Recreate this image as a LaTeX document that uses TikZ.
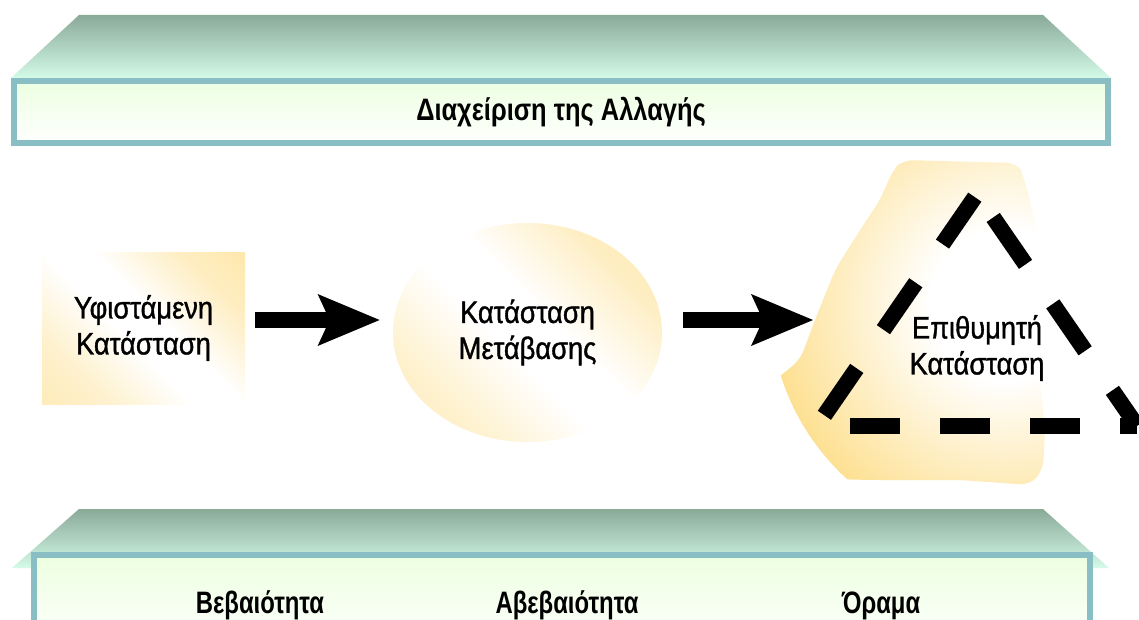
\documentclass[tikz,border=0pt]{standalone}
\usepackage{fontspec}
\setmainfont[FakeStretch=0.88, FakeBold=1.1]{Liberation Sans}
\newfontfamily\topfont[FakeStretch=0.82]{Liberation Sans}
\newfontfamily\lowfont[FakeStretch=0.77]{Liberation Sans}
\usetikzlibrary{arrows.meta, shapes.geometric}

\definecolor{faceTop}{RGB}{138,170,152}
\definecolor{faceBot}{RGB}{212,250,232}
\definecolor{frameLine}{RGB}{136,190,196}
\definecolor{frontTop}{RGB}{236,255,224}
\definecolor{warm}{RGB}{253,224,146}

% diagonal band: warm at both corners, white through the middle
\pgfdeclareverticalshading{warmband}{100bp}{color(0bp)=(warm!85!white);
  color(28bp)=(warm!45!white); color(45bp)=(white); color(55bp)=(white);
  color(72bp)=(warm!55!white); color(100bp)=(warm)}
% soft glow: white core fading to warm at the rim
\pgfdeclareradialshading{blobglow}{\pgfpoint{0bp}{0bp}}{color(0bp)=(white);
  color(8bp)=(white); color(25bp)=(warm); color(50bp)=(warm)}

\tikzset{
  topface/.style={top color=faceTop, bottom color=faceBot},
  frontbox/.style={rectangle, draw=frameLine, line width=3pt,
    top color=frontTop, bottom color=white, inner sep=0pt},
  warmfill/.style={shade, shading=warmband, shading angle=-45},
  txt/.style={font=\fontsize{15.5pt}{18pt}\selectfont, align=center, inner sep=0pt},
  bartext/.style={font=\lowfont\bfseries\fontsize{15.5pt}{18pt}\selectfont, inner sep=0pt},
  bigarrow/.style={line width=8pt,
    -{Stealth[length=31pt, width=26pt, inset=6pt, line width=0pt]}},
  dashside/.style={line width=8pt, black}
}

\begin{document}
\begin{tikzpicture}[x=0.5pt, y=-0.5pt]
  \clip (0,0) rectangle (1139,620);
  \fill[white] (0,0) rectangle (1139,620);

  % upper banner: slanted top face and framed front
  \shade[topface] (79,15) -- (1043,15) -- (1111,78) -- (11,78) -- cycle;
  \node[frontbox, minimum width=547pt, minimum height=31pt] (topbar) at (561,112)
    {\topfont\bfseries\fontsize{15.5pt}{18pt}\selectfont Διαχείριση της Αλλαγής};

  % lower banner
  \shade[topface] (79,509) -- (1043,509) -- (1109,568) -- (12,568) -- cycle;
  \node[frontbox, minimum width=528pt, minimum height=48pt] (lowbar) at (562,603) {};

  % current state
  \node[warmfill, rectangle, minimum width=101.5pt, minimum height=76pt, txt]
    (sq) at (143.5,328) {Υφιστάμενη\\Κατάσταση};

  % transition state
  \node[warmfill, ellipse, minimum width=134.5pt, minimum height=109.5pt, txt]
    (ell) at (527.5,332.5) {Κατάσταση\\Μετάβασης};

  % desired state: soft patch behind the triangle
  \begin{scope}
    \clip[rounded corners=5] (893,170) -- (903,160) -- (1017,163) -- (1022,172)
      -- (1030,200) -- (1037,235) -- (1038,300) -- (1040,380) -- (1045,430)
      -- (1043,470) -- (1030,485) -- (960,480) -- (870,480) -- (790,478)
      -- (778,465) -- (776,430) -- (756,410) -- (754,395) -- (775,380)
      -- (800,360) -- (815,320) -- (835,270) -- (860,230) -- (880,200) -- cycle;
    \shade[shading=blobglow] (1005,305) circle (235);
  \end{scope}

  \coordinate (apex) at (977,194);
  \coordinate (bl) at (817,426);
  \coordinate (br) at (1137,426);
  \draw[dashside, dash pattern=on 28.5pt off 23.5pt, dash phase=45.5pt] (bl) -- (apex);
  \draw[dashside, dash pattern=on 28.5pt off 24pt, dash phase=38.25pt] (apex) -- (br);
  \draw[dashside, dash pattern=on 25pt off 20pt, dash phase=28.5pt] (bl) -- (br);

  \node[txt] (goal) at (977,348) {Επιθυμητή\\Κατάσταση};

  % flow arrows
  \coordinate (goalEdge) at (813,320);
  \draw[bigarrow] ([shift={(10,-8)}]sq.east) -- ([shift={(-13,-12.5)}]ell.west);
  \draw[bigarrow] ([shift={(21,-12.5)}]ell.east) -- (goalEdge);

  % lower banner labels
  \node[bartext, anchor=base] (certain) at (260,613) {Βεβαιότητα};
  \node[bartext, anchor=base] (uncertain) at (567,613) {Αβεβαιότητα};
  \node[bartext, anchor=base] (vision) at (881,613) {Όραμα};
\end{tikzpicture}
\end{document}
